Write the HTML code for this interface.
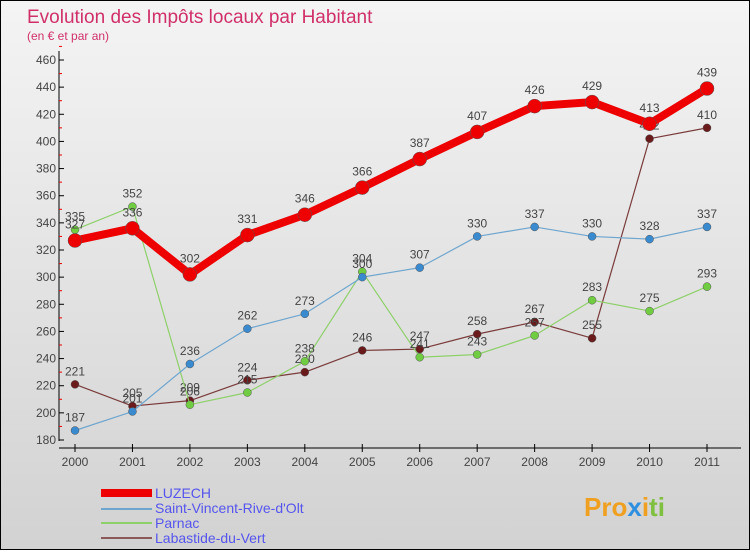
<!DOCTYPE html>
<html><head><meta charset="utf-8"><style>
body{margin:0;width:750px;height:550px;overflow:hidden;font-family:"Liberation Sans",sans-serif}
#wrap{position:relative;width:748px;height:548px;border:1px solid #000;background:linear-gradient(#f4f4f4,#d2d2d2)}
</style></head><body>
<div id="wrap">
<svg id="c" width="748" height="548" xmlns="http://www.w3.org/2000/svg">
<text x="26" y="22" font-size="19" fill="#d0306a">Evolution des Impôts locaux par Habitant</text>
<text x="26" y="39" font-size="12" fill="#d0306a">(en € et par an)</text>
<g id="axes"></g><g id="series"></g>
<g>
<rect x="100" y="488" width="51" height="8" fill="#e00"/>
<line x1="100" y1="508" x2="151" y2="508" stroke="#6fa6cf" stroke-width="2"/>
<line x1="100" y1="522" x2="151" y2="522" stroke="#8ed06a" stroke-width="2"/>
<line x1="100" y1="537" x2="151" y2="537" stroke="#8a5a5a" stroke-width="2"/>
<g font-size="14" fill="#5555ee">
<text x="154" y="497">LUZECH</text>
<text x="154" y="512">Saint-Vincent-Rive-d'Olt</text>
<text x="154" y="527">Parnac</text>
<text x="154" y="542">Labastide-du-Vert</text>
</g></g>
<g font-size="26" font-weight="bold">
<text x="583" y="515"><tspan fill="#f0a020">Pro</tspan><tspan fill="#3090e0">x</tspan><tspan fill="#f0a020">i</tspan><tspan fill="#80c040">ti</tspan></text>
</g>
</svg></div>
<script>
const years=["2000","2001","2002","2003","2004","2005","2006","2007","2008","2009","2010","2011"];
const luzech=[327,336,302,331,346,366,387,407,426,429,413,439];
const stVincent=[187,201,236,262,273,300,307,330,337,330,328,337];
const parnac=[335,352,206,215,238,304,241,243,257,283,275,293];
const labastide=[221,205,209,224,230,246,247,258,267,255,402,410];
const yTicks=[180,200,220,240,260,280,300,320,340,360,380,400,420,440,460];
const NS="http://www.w3.org/2000/svg";
const X=i=>74+i*(706-74)/11;
const Y=v=>439-(v-180)*(439-59)/280;
function mk(t,a,p){const e=document.createElementNS(NS,t);for(const k in a)e.setAttribute(k,a[k]);p.appendChild(e);return e;}
const ax=document.getElementById('axes');
let l=mk('line',{x1:58,y1:50,x2:58,y2:440,stroke:'#000'},ax);


l=mk('line',{x1:58,y1:447,x2:740,y2:447,stroke:'#000'},ax);


yTicks.forEach(v=>{
 mk('line',{x1:58,y1:Y(v),x2:63,y2:Y(v),stroke:'#000'},ax);
 mk('line',{x1:58,y1:Y(v+10),x2:61,y2:Y(v+10),stroke:'#e00'},ax);
 const t=mk('text',{x:55,y:Y(v)+4,'text-anchor':'end','font-size':12,fill:'#444'},ax);
 t.textContent=v;
 
 
});
years.forEach((yr,i)=>{
 mk('line',{x1:X(i),y1:443,x2:X(i),y2:451,stroke:'#000'},ax);
 const t=mk('text',{x:X(i),y:465,'text-anchor':'middle','font-size':12,fill:'#444'},ax);
 t.textContent=yr;
 
 
});
const sg=document.getElementById('series');
function draw(data,name,color,w,r,ptColor){
 const g=mk('g',{},sg);
 
 
 const pl=mk('polyline',{points:data.map((v,i)=>X(i)+','+Y(v)).join(' '),fill:'none',stroke:color,'stroke-width':w,'stroke-linejoin':'round'},g);
 
 
 data.forEach((v,i)=>{
  const c=mk('circle',{cx:X(i),cy:Y(v),r:r,fill:ptColor,stroke:'#555','stroke-width':0.5},g);
  
  
  const t=mk('text',{x:X(i),y:Y(v)-r-5,'text-anchor':'middle','font-size':12,fill:'#444'},g);
  t.textContent=v;
  
  
 });
}
draw(labastide,'labastide','#7a3a3a',1.2,4,'#6a1a1a');
draw(parnac,'parnac','#8ed06a',1.2,4,'#70cc40');
draw(stVincent,'saint-vincent','#6fa6cf',1.2,4,'#3a8ad0');
draw(luzech,'luzech','#ee0000',8,7,'#ee0000');
</script>
</body></html>
